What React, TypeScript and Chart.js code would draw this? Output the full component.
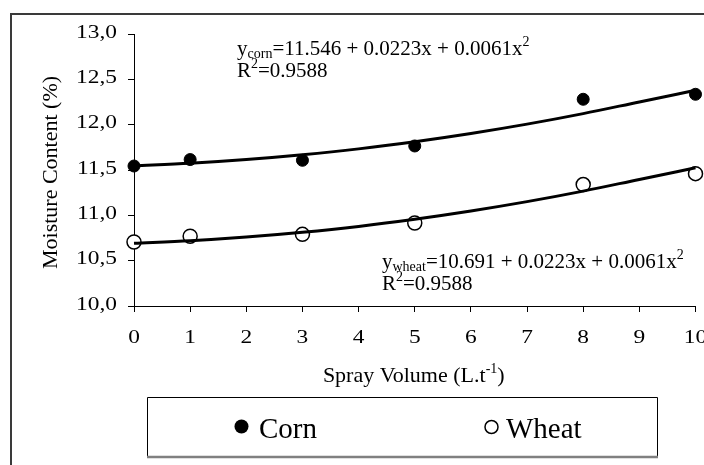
import React, { useEffect, useRef } from 'react';
import { Chart, registerables } from 'chart.js';

Chart.register(...registerables);

// ---- data ----
const sprayVolumes = [0, 1, 3, 5, 8, 10];
const cornValues = [11.544, 11.615, 11.607, 11.765, 12.28, 12.335];
const wheatValues = [10.706, 10.769, 10.79, 10.915, 11.339, 11.46];

const trendVolumes = [0, 1, 2, 3, 4, 5, 6, 7, 8, 9, 10];
const cornTrend = [11.546, 11.574, 11.615, 11.668, 11.733, 11.812, 11.903, 12.006, 12.122, 12.251, 12.379];
const wheatTrend = [10.691, 10.719, 10.76, 10.813, 10.878, 10.957, 11.048, 11.151, 11.267, 11.396, 11.524];

const xTickLabels = ['0', '1', '2', '3', '4', '5', '6', '7', '8', '9', '10'];
const yTickLabels = ['10,0', '10,5', '11,0', '11,5', '12,0', '12,5', '13,0'];

const seriesNames = ['Corn', 'Wheat'];
const xTitle = ['Spray Volume (L.t', '-1', ')'];
const yTitle = 'Moisture Content (%)';
const cornEq = ['y', 'corn', '=11.546 + 0.0223x + 0.0061x', '2'];
const wheatEq = ['y', 'wheat', '=10.691 + 0.0223x + 0.0061x', '2'];
const r2Text = ['R', '2', '=0.9588'];

const FONT = '"Liberation Serif", "Times New Roman", serif';

type Part = { t: string; s: number; dy?: number };

function drawRich(ctx: CanvasRenderingContext2D, parts: Part[], x: number, y: number, align: 'left' | 'center' = 'left') {
  ctx.textAlign = 'left';
  ctx.textBaseline = 'alphabetic';
  let total = 0;
  for (const p of parts) {
    ctx.font = `${p.s}px ${FONT}`;
    total += ctx.measureText(p.t).width;
  }
  let cx = align === 'center' ? x - total / 2 : x;
  for (const p of parts) {
    ctx.font = `${p.s}px ${FONT}`;
    ctx.fillText(p.t, cx, y + (p.dy || 0));
    cx += ctx.measureText(p.t).width;
  }
}

const decorPlugin = {
  id: 'decor',
  afterDraw(chart: any) {
    const ctx: CanvasRenderingContext2D = chart.ctx;
    const xs = chart.scales.x;
    const ys = chart.scales.y;
    const area = chart.chartArea;
    ctx.save();

    // outer frame
    ctx.strokeStyle = '#3a3a3a';
    ctx.lineWidth = 2;
    ctx.beginPath();
    ctx.moveTo(11, 465);
    ctx.lineTo(11, 14);
    ctx.lineTo(704, 14);
    ctx.stroke();

    ctx.fillStyle = '#000';

    // y tick labels (horizontally widened as in the reference)
    ctx.font = `18px ${FONT}`;
    ctx.textBaseline = 'middle';
    ys.ticks.forEach((t: any, i: number) => {
      const y = ys.getPixelForValue(t.value);
      ctx.save();
      ctx.translate(area.left - 17, y - 1);
      ctx.scale(1.3, 1);
      ctx.textAlign = 'right';
      ctx.fillText(yTickLabels[i], 0, 0);
      ctx.restore();
    });
    // x tick labels
    xs.ticks.forEach((t: any, i: number) => {
      const x = xs.getPixelForValue(t.value);
      ctx.save();
      ctx.translate(x, area.bottom + 32);
      ctx.scale(1.3, 1);
      ctx.textAlign = 'center';
      ctx.textBaseline = 'middle';
      ctx.fillText(xTickLabels[i], 0, 0);
      ctx.restore();
    });

    // x title
    drawRich(
      ctx,
      [
        { t: xTitle[0], s: 22 },
        { t: xTitle[1], s: 14, dy: -9 },
        { t: xTitle[2], s: 22 },
      ],
      (area.left + area.right) / 2 - 1,
      area.bottom + 76,
      'center'
    );

    // y title
    ctx.save();
    ctx.translate(57, 172.5);
    ctx.rotate(-Math.PI / 2);
    ctx.font = `22px ${FONT}`;
    ctx.textAlign = 'center';
    ctx.textBaseline = 'alphabetic';
    ctx.fillText(yTitle, 0, 0);
    ctx.restore();

    // equations
    const eq = (e: string[], x: number, y: number) => {
      drawRich(ctx, [
        { t: e[0], s: 21 },
        { t: e[1], s: 14, dy: 3 },
        { t: e[2], s: 21 },
        { t: e[3], s: 14, dy: -9 },
      ], x, y);
      drawRich(ctx, [
        { t: r2Text[0], s: 21 },
        { t: r2Text[1], s: 14, dy: -9 },
        { t: r2Text[2], s: 21 },
      ], x, y + 22);
    };
    eq(cornEq, 237, 55);
    eq(wheatEq, 382, 268);

    // legend box
    const lx = 147, ly = 397, lw = 511, lh = 60;
    ctx.fillStyle = '#fff';
    ctx.fillRect(lx, ly, lw, lh);
    ctx.strokeStyle = '#000';
    ctx.lineWidth = 1;
    ctx.beginPath();
    ctx.moveTo(lx + 0.5, ly + lh);
    ctx.lineTo(lx + 0.5, ly + 0.5);
    ctx.lineTo(lx + lw - 0.5, ly + 0.5);
    ctx.lineTo(lx + lw - 0.5, ly + lh);
    ctx.stroke();
    ctx.strokeStyle = '#808080';
    ctx.lineWidth = 2.5;
    ctx.beginPath();
    ctx.moveTo(lx, ly + lh);
    ctx.lineTo(lx + lw, ly + lh);
    ctx.stroke();

    // legend items
    ctx.fillStyle = '#000';
    ctx.beginPath();
    ctx.arc(241.5, 426.5, 7, 0, Math.PI * 2);
    ctx.fill();
    ctx.strokeStyle = '#000';
    ctx.lineWidth = 1.5;
    ctx.beginPath();
    ctx.arc(491.5, 427, 6.5, 0, Math.PI * 2);
    ctx.fillStyle = '#fff';
    ctx.fill();
    ctx.stroke();
    ctx.fillStyle = '#000';
    ctx.font = `29px ${FONT}`;
    ctx.textAlign = 'left';
    ctx.textBaseline = 'alphabetic';
    ctx.fillText(seriesNames[0], 259, 438);
    ctx.fillText(seriesNames[1], 506, 438);

    ctx.restore();
  },
};

export default function App() {
  const ref = useRef<HTMLCanvasElement>(null);
  useEffect(() => {
    const canvas = ref.current!;
    const toXY = (xs: number[], ys: number[]) => xs.map((x, i) => ({ x, y: ys[i] }));
    const chart = new Chart(canvas, {
      type: 'scatter',
      data: {
        datasets: [
          {
            label: seriesNames[0] + ' trend',
            data: toXY(trendVolumes, cornTrend),
            showLine: true,
            borderColor: '#000',
            borderWidth: 3,
            pointRadius: 0,
            cubicInterpolationMode: 'monotone',
            clip: false,
          } as any,
          {
            label: seriesNames[1] + ' trend',
            data: toXY(trendVolumes, wheatTrend),
            showLine: true,
            borderColor: '#000',
            borderWidth: 3,
            pointRadius: 0,
            cubicInterpolationMode: 'monotone',
            clip: false,
          } as any,
          {
            label: seriesNames[0],
            data: toXY(sprayVolumes, cornValues),
            pointRadius: 6,
            pointBackgroundColor: '#000',
            pointBorderColor: '#000',
            pointBorderWidth: 1,
            clip: false,
          } as any,
          {
            label: seriesNames[1],
            data: toXY(sprayVolumes, wheatValues),
            pointRadius: 7,
            pointBackgroundColor: '#fff',
            pointBorderColor: '#000',
            pointBorderWidth: 1.5,
            clip: false,
          } as any,
        ],
      },
      options: {
        animation: false,
        responsive: false,
        devicePixelRatio: 1,
        layout: { padding: { left: 0, top: 34, right: 8, bottom: 0 } },
        plugins: { legend: { display: false }, tooltip: { enabled: false } },
        scales: {
          x: {
            type: 'linear',
            min: 0,
            max: 10,
            ticks: { stepSize: 1, display: false },
            grid: { drawOnChartArea: false, drawTicks: true, tickLength: 6, color: '#000', lineWidth: 1 },
            border: { display: true, color: '#000', width: 1 },
            afterFit: (s: any) => {
              s.height = 159;
            },
          },
          y: {
            type: 'linear',
            min: 10,
            max: 13,
            ticks: { stepSize: 0.5, display: false },
            grid: { drawOnChartArea: false, drawTicks: true, tickLength: 6, color: '#000', lineWidth: 1 },
            border: { display: true, color: '#000', width: 1 },
            afterFit: (s: any) => {
              s.width = 134;
            },
          },
        },
      } as any,
      plugins: [decorPlugin],
    });
    return () => chart.destroy();
  }, []);
  return (
    <div style={{ position: 'absolute', left: 0, top: 0, width: 704, height: 465, background: '#fff' }}>
      <canvas ref={ref} width={704} height={465} style={{ width: '704px', height: '465px', display: 'block' }} />
    </div>
  );
}
